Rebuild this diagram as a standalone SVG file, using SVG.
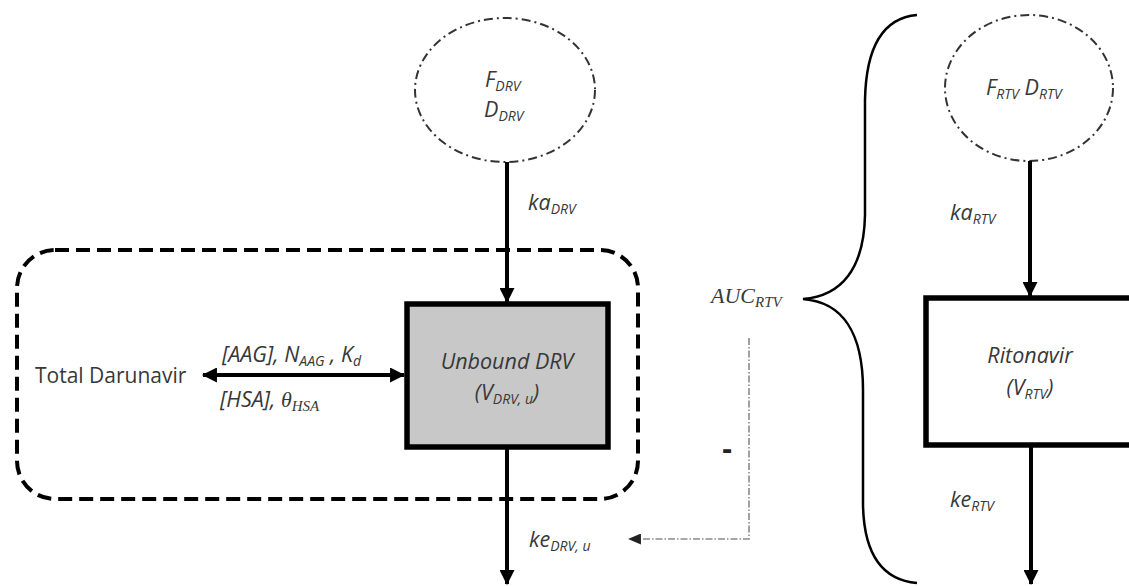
<svg xmlns="http://www.w3.org/2000/svg" width="1129" height="586" viewBox="0 0 1129 586">
  <defs>
    <marker id="head" viewBox="0 0 14 14" markerUnits="userSpaceOnUse" markerWidth="15" markerHeight="15" refX="13" refY="7" orient="auto-start-reverse">
      <path d="M0,0 L14,7 L0,14 z" fill="#000"/>
    </marker>
    <marker id="headGray" viewBox="0 0 14 12" markerUnits="userSpaceOnUse" markerWidth="13" markerHeight="11" refX="13" refY="6" orient="auto">
      <path d="M0,0 L14,6 L0,12 z" fill="#222"/>
    </marker>
    <style>
      .lbl { font-family: "Open Sans", "Liberation Sans", sans-serif; font-style: italic; font-size: 21.5px; fill: #383838; }
      .plain { font-family: "Open Sans", "Liberation Sans", sans-serif; font-size: 21px; fill: #383838; }
      .math { font-family: "Liberation Serif", "DejaVu Serif", serif; font-style: italic; font-size: 22px; fill: #383838; }
      .sub { font-size: 14px; }
      .dose { fill: none; stroke: #333; stroke-width: 2; stroke-dasharray: 9 4 2 4; }
      .flow { fill: none; stroke: #000; stroke-width: 4; }
      .comp { stroke: #000; stroke-width: 5.5; }
    </style>
  </defs>

  <!-- protein-binding boundary around unbound darunavir -->
  <g id="binding-region">
    <rect x="17" y="250" width="621" height="249" rx="38" ry="38" fill="none" stroke="#000" stroke-width="4" stroke-dasharray="14 7"/>
  </g>

  <!-- darunavir dose -->
  <g id="drv-dose">
    <ellipse cx="505" cy="90" rx="90" ry="72" class="dose"/>
    <text class="lbl" x="485" y="87">F<tspan class="sub" dy="4">DRV</tspan></text>
    <text class="lbl" x="484" y="117">D<tspan class="sub" dy="4">DRV</tspan></text>
  </g>

  <!-- unbound darunavir compartment -->
  <g id="drv-unbound">
    <rect x="407" y="304" width="201" height="143" fill="#c8c8c8" class="comp"/>
    <text class="lbl" x="507" y="369" text-anchor="middle">Unbound DRV</text>
    <text class="lbl" x="507" y="400" text-anchor="middle">(V<tspan class="sub" dy="4">DRV, u</tspan><tspan dy="-4">)</tspan></text>
  </g>

  <!-- total darunavir -->
  <g id="drv-total">
    <text class="plain" x="35" y="383">Total Darunavir</text>
  </g>

  <!-- ritonavir dose -->
  <g id="rtv-dose">
    <ellipse cx="1029" cy="88" rx="84" ry="73" class="dose"/>
    <text class="lbl" x="986" y="95">F<tspan class="sub" dy="4">RTV</tspan><tspan dy="-4"> D</tspan><tspan class="sub" dy="4">RTV</tspan></text>
  </g>

  <!-- ritonavir compartment -->
  <g id="rtv-central">
    <rect x="926" y="298" width="230" height="147" fill="#fff" class="comp"/>
    <text class="lbl" x="1030" y="363" text-anchor="middle">Ritonavir</text>
    <text class="lbl" x="1030" y="395" text-anchor="middle">(V<tspan class="sub" dy="4">RTV</tspan><tspan dy="-4">)</tspan></text>
  </g>

  <!-- ritonavir exposure -->
  <g id="rtv-auc">
    <path d="M917,15 C882,18 866,48 865,100 L865,215 C864,268 842,296 803,299 C842,302 863,332 863,390 L863,505 C864,555 882,580 917,583" fill="none" stroke="#000" stroke-width="2.5"/>
    <text class="math" x="711" y="303">AUC<tspan class="sub" dy="4" style="font-size:15px">RTV</tspan></text>
  </g>

  <g id="connectors">
    <line x1="507" y1="162" x2="507" y2="302" class="flow" marker-end="url(#head)"/>
    <line x1="507" y1="449" x2="507" y2="584" class="flow" marker-end="url(#head)"/>
    <line x1="203" y1="375" x2="404" y2="375" class="flow" marker-start="url(#head)" marker-end="url(#head)"/>
    <line x1="1030" y1="161" x2="1030" y2="296" class="flow" marker-end="url(#head)"/>
    <line x1="1031" y1="447" x2="1031" y2="584" class="flow" marker-end="url(#head)"/>
    <path d="M749,338 L749,539 L629,539" fill="none" stroke="#8a8a8a" stroke-width="1.6" stroke-dasharray="7 2 1.5 2" marker-end="url(#headGray)"/>
  </g>

  <!-- rate labels -->
  <g id="labels">
    <text class="lbl" x="528" y="210">ka<tspan class="sub" dy="4">DRV</tspan></text>
    <text class="lbl" x="529" y="547">ke<tspan class="sub" dy="4">DRV, u</tspan></text>
    <text class="lbl" x="222" y="362">[AAG], N<tspan class="sub" dy="4">AAG</tspan><tspan dy="-4"> , K</tspan><tspan class="sub" dy="4">d</tspan></text>
    <text class="lbl" x="220" y="407">[HSA], <tspan class="math">θ</tspan><tspan class="math sub" dy="4" style="font-size:15px">HSA</tspan></text>
    <text class="lbl" x="950" y="220">ka<tspan class="sub" dy="4">RTV</tspan></text>
    <text class="lbl" x="950" y="507">ke<tspan class="sub" dy="4">RTV</tspan></text>
    <text x="727" y="459" text-anchor="middle" font-family="Open Sans, sans-serif" font-weight="bold" font-size="30" fill="#222">-</text>
  </g>
</svg>
